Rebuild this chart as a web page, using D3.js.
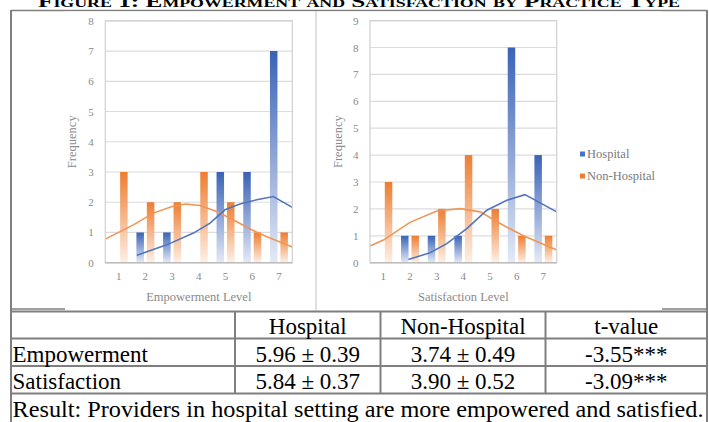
<!DOCTYPE html>
<html>
<head>
<meta charset="utf-8">
<script src="https://cdn.jsdelivr.net/npm/d3@7"></script>
<style>
    body { margin: 0; background: #fff; }
    svg text { font-family: "Liberation Serif", "Times New Roman", serif; }
</style>
</head>
<body>
<div id="figure"></div>
<script>
// bar data (frequency per level)
const levels = [1, 2, 3, 4, 5, 6, 7];
const groups = ["Hospital", "Non-Hospital"];
const empHospital = [0, 1, 1, 0, 3, 3, 7];
const empNonHospital = [3, 2, 2, 3, 2, 1, 1];
const satHospital = [0, 1, 1, 1, 0, 8, 4];
const satNonHospital = [3, 1, 2, 4, 2, 1, 1];

// fitted curves: level position, frequency
const empHospCurveX = [1.68, 2.8, 3.8, 4.42, 4.98, 5.54, 6.17, 6.79, 7.5];
const empHospCurveY = [0.25, 0.59, 0.98, 1.31, 1.75, 1.94, 2.08, 2.19, 1.83];
const empNonCurveX = [0.5, 1.55, 2.3, 3.0, 3.5, 4.05, 4.67, 5.3, 6.0, 6.55, 7.5];
const empNonCurveY = [0.78, 1.25, 1.64, 1.86, 1.94, 1.89, 1.69, 1.41, 1.08, 0.86, 0.52];
const satHospCurveX = [1.94, 2.75, 3.38, 4.13, 4.88, 5.63, 6.31, 7.5];
const satHospCurveY = [0.12, 0.37, 0.71, 1.27, 1.95, 2.32, 2.53, 1.89];
const satNonCurveX = [0.5, 1.0, 2.0, 3.0, 3.88, 4.63, 5.5, 6.25, 7.5];
const satNonCurveY = [0.62, 0.84, 1.5, 1.92, 2.01, 1.89, 1.39, 1.0, 0.47];

// table
const tableColumns = ["", "Hospital", "Non-Hospital", "t-value"];
const rowLabels = ["Empowerment", "Satisfaction"];
const hospitalCells = ["5.96 ± 0.39", "5.84 ± 0.37"];
const nonHospitalCells = ["3.74 ± 0.49", "3.90 ± 0.52"];
const tValues = ["-3.55***", "-3.09***"];
const resultText = "Result: Providers in hospital setting are more empowered and satisfied.";
const titleText = "Figure 1: Empowerment and Satisfaction by Practice Type";

const blue = "#4472c4", orange = "#ed7d31";
const serif = "'Liberation Serif', 'Times New Roman', serif";

class FrequencyChart {
    constructor(_svg, _config) {
        this.svg = _svg;
        this.config = _config;
        this.initVis();
    }

    initVis() {
        let vis = this;
        let c = vis.config;

        vis.width = c.width;
        vis.height = c.height;

        vis.g = vis.svg.append("g")
            .attr("transform", "translate(" + c.left + "," + c.top + ")");

        // band scale for bars, linear scale for the curves on the same axis
        vis.x = d3.scaleBand().domain(levels).range([0, vis.width]);
        vis.xSub = d3.scaleBand().domain(groups)
            .range([0, vis.x.bandwidth()])
            .paddingInner(0.28)
            .paddingOuter(0.42);
        vis.xLin = d3.scaleLinear().domain([0.5, 7.5]).range([0, vis.width]);
        vis.y = d3.scaleLinear().domain([0, c.yMax]).range([vis.height, 0]);

        vis.updateVis();
    }

    updateVis() {
        let vis = this;
        let c = vis.config;

        // gridlines
        vis.g.selectAll(".grid")
            .data(vis.y.ticks(c.yMax).filter(d => d > 0))
            .join("line")
            .attr("x1", 0)
            .attr("x2", vis.width)
            .attr("y1", d => vis.y(d))
            .attr("y2", d => vis.y(d))
            .attr("stroke", "#dcdcdc")
            .attr("stroke-width", 1.2);

        // bars
        let barData = [];
        levels.forEach((lv, i) => {
            barData.push({ level: lv, group: "Hospital", value: c.hospital[i] });
            barData.push({ level: lv, group: "Non-Hospital", value: c.nonHospital[i] });
        });

        vis.g.selectAll(".bar")
            .data(barData.filter(d => d.value > 0))
            .join("rect")
            .attr("x", d => vis.x(d.level) + vis.xSub(d.group))
            .attr("y", d => vis.y(d.value))
            .attr("width", vis.xSub.bandwidth())
            .attr("height", d => vis.height - vis.y(d.value))
            .attr("fill", d => d.group == "Hospital" ? "url(#gradBlue)" : "url(#gradOrange)");

        // fitted curves
        let line = d3.line()
            .x(d => vis.xLin(d[0]))
            .y(d => vis.y(d[1]));

        vis.g.append("path")
            .datum(d3.zip(c.nonCurveX, c.nonCurveY))
            .attr("d", line)
            .attr("fill", "none")
            .attr("stroke", "#ef9556")
            .attr("stroke-width", 1.6);

        vis.g.append("path")
            .datum(d3.zip(c.hospCurveX, c.hospCurveY))
            .attr("d", line)
            .attr("fill", "none")
            .attr("stroke", "#5275bd")
            .attr("stroke-width", 1.6);

        // plot border
        vis.g.append("rect")
            .attr("width", vis.width)
            .attr("height", vis.height)
            .attr("fill", "none")
            .attr("stroke", "#d0d0d0")
            .attr("stroke-width", 1.2);

        vis.g.append("line")
            .attr("x1", 0).attr("x2", vis.width)
            .attr("y1", vis.height).attr("y2", vis.height)
            .attr("stroke", "#bdbdbd")
            .attr("stroke-width", 1.4);

        // axes
        let yAxis = vis.g.append("g")
            .call(d3.axisLeft(vis.y).ticks(c.yMax).tickSize(0).tickPadding(11.5));
        yAxis.select(".domain").remove();
        yAxis.selectAll("text")
            .style("font-family", serif)
            .style("font-size", "11px")
            .attr("fill", "#8a8a8a");

        let xAxis = vis.g.append("g")
            .attr("transform", "translate(0," + vis.height + ")")
            .call(d3.axisBottom(vis.x).tickSize(0).tickPadding(10));
        xAxis.select(".domain").remove();
        xAxis.selectAll("text")
            .style("font-family", serif)
            .style("font-size", "11px")
            .attr("fill", "#8a8a8a");

        // axis titles
        vis.g.append("text")
            .attr("x", vis.width / 2)
            .attr("y", vis.height + 38.5)
            .attr("text-anchor", "middle")
            .style("font-family", serif)
            .attr("font-size", "12.5px")
            .attr("fill", "#8a8a8a")
            .text(c.xTitle);

        vis.g.append("text")
            .attr("transform", "translate(" + c.yTitleX + "," + (vis.height / 2) + ")rotate(-90)")
            .attr("text-anchor", "middle")
            .style("font-family", serif)
            .attr("font-size", "12.5px")
            .attr("fill", "#8a8a8a")
            .text("Frequency");
    }
}

let svg = d3.select("#figure")
    .append("svg")
    .attr("width", 709)
    .attr("height", 422);

// gradients for the bars
let defs = svg.append("defs");
[["gradBlue", "#3a62b6", "#e4eaf6"], ["gradOrange", "#ed7d31", "#fdf0e6"]].forEach(g => {
    let grad = defs.append("linearGradient")
        .attr("id", g[0])
        .attr("x1", 0).attr("y1", 0).attr("x2", 0).attr("y2", 1);
    grad.append("stop").attr("offset", "0%").attr("stop-color", g[1]);
    grad.append("stop").attr("offset", "100%").attr("stop-color", g[2]);
});

// title (cut at top like the original)
svg.append("text")
    .attr("x", 359)
    .attr("y", 7)
    .attr("text-anchor", "middle")
    .style("font-family", serif)
    .attr("font-size", "17px")
    .attr("font-weight", "bold")
    .style("font-variant", "small-caps")
    .attr("textLength", 642)
    .attr("lengthAdjust", "spacingAndGlyphs")
    .text(titleText);

// table frame
let lineColor = "#7f7f7f";
let rowEdges = [311.5, 338.5, 366, 393.5];
let colEdges = [11, 235, 380.5, 545.5, 707];

svg.append("line").attr("x1", 11).attr("x2", 11).attr("y1", 10).attr("y2", 422)
    .attr("stroke", lineColor).attr("stroke-width", 2);
svg.append("line").attr("x1", 707).attr("x2", 707).attr("y1", 10).attr("y2", 422)
    .attr("stroke", lineColor).attr("stroke-width", 2);
svg.append("line").attr("x1", 11).attr("x2", 707).attr("y1", 10.5).attr("y2", 10.5)
    .attr("stroke", lineColor).attr("stroke-width", 1.5);
svg.append("line").attr("x1", 11).attr("x2", 707).attr("y1", 309).attr("y2", 309)
    .attr("stroke", lineColor).attr("stroke-width", 1.5);

// white chart images sit over the cell borders
svg.append("rect")
    .attr("x", 65).attr("y", 11.5)
    .attr("width", 597).attr("height", 298.5)
    .attr("fill", "#fff");
svg.append("line")
    .attr("x1", 316).attr("x2", 316).attr("y1", 11).attr("y2", 310)
    .attr("stroke", "#d6d6d6").attr("stroke-width", 1.5);

rowEdges.forEach(y => {
    svg.append("line").attr("x1", 11).attr("x2", 707).attr("y1", y).attr("y2", y)
        .attr("stroke", lineColor).attr("stroke-width", 2);
});
colEdges.slice(1, 4).forEach(x => {
    svg.append("line").attr("x1", x).attr("x2", x).attr("y1", rowEdges[0]).attr("y2", rowEdges[3])
        .attr("stroke", lineColor).attr("stroke-width", 2);
});

// table text
let tableFont = "23px";
let colCenter = i => (colEdges[i] + colEdges[i + 1]) / 2;

tableColumns.forEach((t, i) => {
    svg.append("text")
        .attr("x", colCenter(i))
        .attr("y", rowEdges[1] - 5)
        .attr("text-anchor", "middle")
        .style("font-family", serif)
        .attr("font-size", tableFont)
        .text(t);
});

rowLabels.forEach((label, r) => {
    let y = rowEdges[r + 2] - 4.5;
    svg.append("text").attr("x", 12.5).attr("y", y)
        .style("font-family", serif)
        .attr("font-size", tableFont).text(label);
    [hospitalCells[r], nonHospitalCells[r], tValues[r]].forEach((t, i) => {
        svg.append("text")
            .attr("x", colCenter(i + 1))
            .attr("y", y)
            .attr("text-anchor", "middle")
            .style("font-family", serif)
            .attr("font-size", tableFont)
            .text(t);
    });
});

svg.append("text")
    .attr("x", 12.5)
    .attr("y", 417)
    .style("font-family", serif)
    .attr("font-size", tableFont)
    .attr("textLength", 691)
    .attr("lengthAdjust", "spacingAndGlyphs")
    .text(resultText);

// the two charts
new FrequencyChart(svg, {
    left: 105.3, top: 20.8, width: 187, height: 241.9, yMax: 8,
    hospital: empHospital, nonHospital: empNonHospital,
    hospCurveX: empHospCurveX, hospCurveY: empHospCurveY,
    nonCurveX: empNonCurveX, nonCurveY: empNonCurveY,
    xTitle: "Empowerment Level", yTitleX: -29.5
});

new FrequencyChart(svg, {
    left: 370, top: 20.6, width: 186.7, height: 242.1, yMax: 9,
    hospital: satHospital, nonHospital: satNonHospital,
    hospCurveX: satHospCurveX, hospCurveY: satHospCurveY,
    nonCurveX: satNonCurveX, nonCurveY: satNonCurveY,
    xTitle: "Satisfaction Level", yTitleX: -28
});

// legend
let legend = svg.append("g").attr("transform", "translate(580,0)");
groups.forEach((grp, i) => {
    let y = 154 + i * 22;
    legend.append("rect")
        .attr("x", 0).attr("y", y - 2.5)
        .attr("width", 5).attr("height", 5)
        .attr("fill", i == 0 ? blue : orange);
    legend.append("text")
        .attr("x", 7)
        .attr("y", y + 4)
        .style("font-family", serif)
        .attr("font-size", "12.5px")
        .attr("fill", "#7a7a7a")
        .text(grp);
});
</script>
</body>
</html>
